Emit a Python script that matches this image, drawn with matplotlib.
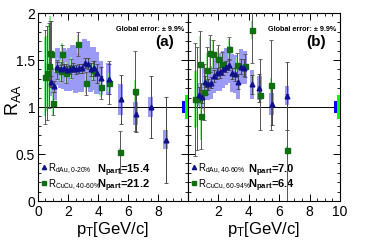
import numpy as np
import matplotlib.pyplot as plt
from matplotlib.ticker import MultipleLocator, FormatStrFormatter
from matplotlib.lines import Line2D

plt.rcParams['font.family'] = ['Liberation Sans', 'DejaVu Sans']
plt.rcParams['mathtext.fontset'] = 'custom'
plt.rcParams['mathtext.rm'] = 'Liberation Sans'
plt.rcParams['mathtext.it'] = 'Liberation Sans'

# panel (a): d+Au 0-20% and Cu+Cu 40-60%
pt_a_dau = [0.9, 1.1, 1.3, 1.5, 1.7, 1.9, 2.1, 2.3, 2.5, 2.7, 2.9, 3.1, 3.3, 3.5, 3.7, 3.9, 4.2, 4.7, 5.5, 6.5, 7.5, 8.5]
r_a_dau = [1.27, 1.22, 1.43, 1.40, 1.41, 1.39, 1.40, 1.42, 1.40, 1.41, 1.41, 1.47, 1.46, 1.40, 1.41, 1.36, 1.31, 1.30, 1.08, 0.93, 1.00, 0.65]
stat_a_dau = [0.06, 0.06, 0.05, 0.05, 0.05, 0.05, 0.05, 0.05, 0.05, 0.05, 0.05, 0.05, 0.06, 0.07, 0.08, 0.10, 0.12, 0.16, 0.26, 0.20, 0.33, 0.46]
sys_a_dau = [0.15, 0.15, 0.2, 0.2, 0.22, 0.22, 0.23, 0.24, 0.25, 0.25, 0.25, 0.25, 0.24, 0.24, 0.23, 0.22, 0.18, 0.17, 0.16, 0.12, 0.11, 0.1]

pt_a_cu = [0.47, 0.62, 0.71, 0.8, 0.87, 1.02, 1.3, 1.5, 1.6, 1.87, 2.2, 2.69, 3.18, 3.65, 4.2, 4.7, 5.45, 6.45]
r_a_cu = [1.32, 1.36, 1.44, 1.57, 1.56, 1.04, 1.40, 1.38, 1.56, 1.36, 1.41, 1.67, 1.25, 1.39, 1.21, 1.26, 0.52, 1.17]
stat_a_cu = [0.5, 0.5, 0.45, 0.35, 0.35, 0.12, 0.1, 0.1, 0.1, 0.1, 0.1, 0.13, 0.12, 0.1, 0.12, 0.23, 0.22, 0.43]
sys_a_cu = [0.42, 0.4, 0.45, 0.4, 0.35, 0.12, 0.12, 0.12, 0.12, 0.12, 0.12, 0.1, 0.1, 0.1, 0.1, 0.1, 0.04, 0.12]

# panel (b): d+Au 40-60% and Cu+Cu 60-94%
pt_b_dau = [0.7, 0.9, 1.1, 1.3, 1.5, 1.7, 1.9, 2.1, 2.3, 2.5, 2.7, 2.9, 3.1, 3.3, 3.5, 3.7, 4.2, 4.7, 5.5, 6.5]
r_b_dau = [1.13, 1.11, 1.27, 1.24, 1.26, 1.33, 1.36, 1.37, 1.40, 1.43, 1.45, 1.36, 1.35, 1.27, 1.43, 1.42, 1.24, 1.20, 1.03, 1.12]
stat_b_dau = [0.08, 0.07, 0.06, 0.06, 0.06, 0.06, 0.06, 0.06, 0.06, 0.06, 0.06, 0.06, 0.07, 0.08, 0.08, 0.09, 0.1, 0.15, 0.22, 0.36]
sys_b_dau = [0.12, 0.13, 0.15, 0.17, 0.18, 0.18, 0.19, 0.2, 0.2, 0.2, 0.2, 0.2, 0.2, 0.19, 0.19, 0.18, 0.15, 0.13, 0.12, 0.1]

pt_b_cu = [0.48, 0.6, 0.77, 0.88, 1.05, 1.25, 1.43, 1.64, 1.95, 2.24, 2.7, 3.22, 3.73, 4.21, 4.72, 5.48, 6.49]
r_b_cu = [1.08, 1.09, 1.46, 0.90, 1.16, 1.39, 1.57, 1.56, 1.51, 1.46, 1.62, 1.45, 1.44, 1.82, 1.13, 1.23, 0.54]
stat_b_cu = [0.6, 0.55, 0.35, 0.35, 0.3, 0.25, 0.2, 0.15, 0.15, 0.12, 0.12, 0.12, 0.12, 0.35, 0.38, 0.48, 0.6]
sys_b_cu = [0.3, 0.3, 0.3, 0.25, 0.2, 0.18, 0.16, 0.14, 0.12, 0.1, 0.1, 0.08, 0.08, 0.1, 0.08, 0.08, 0.04]

glob_pt = [9.68, 9.9]
glob_err = [0.065, 0.125]

panels = [
    dict(ax_rect=[0.1016, 0.2016, 0.4011, 0.7431], dau=(pt_a_dau, r_a_dau, stat_a_dau, sys_a_dau),
         cu=(pt_a_cu, r_a_cu, stat_a_cu, sys_a_cu), tag='(a)',
         lab_dau=r'R$_{\mathregular{dAu,0\text{-}20\%}}$', lab_cu=r'R$_{\mathregular{CuCu,40\text{-}60\%}}$',
         np_dau='15.4', np_cu='21.2'),
    dict(ax_rect=[0.5027, 0.2016, 0.4064, 0.7431], dau=(pt_b_dau, r_b_dau, stat_b_dau, sys_b_dau),
         cu=(pt_b_cu, r_b_cu, stat_b_cu, sys_b_cu), tag='(b)',
         lab_dau=r'R$_{\mathregular{dAu,40\text{-}60\%}}$', lab_cu=r'R$_{\mathregular{CuCu,60\text{-}94\%}}$',
         np_dau='7.0', np_cu='6.4'),
]

blue_box = '#9b9bf7'
green_box = '#8cf08c'
blue_mk = '#10108a'
green_mk = '#0f6e0f'

fig = plt.figure(figsize=(3.74, 2.53), dpi=100)

for i, p in enumerate(panels):
    ax = fig.add_axes(p['ax_rect'])
    x, y, st, sy = p['dau']
    ax.bar(x, 2 * np.array(sy), bottom=np.array(y) - np.array(sy), width=0.3, color=blue_box, lw=0, zorder=1)
    x2, y2, st2, sy2 = p['cu']
    ax.bar(x2, 2 * np.array(sy2), bottom=np.array(y2) - np.array(sy2), width=0.12, color=green_box, lw=0, zorder=2)
    ax.axhline(1, color='black', lw=0.7, zorder=3)
    ax.errorbar(x2, y2, yerr=st2, fmt='none', ecolor='#555555', elinewidth=0.7, capsize=1.2, capthick=0.6, zorder=4)
    ax.errorbar(x, y, yerr=st, fmt='none', ecolor='#444444', elinewidth=0.7, capsize=1.2, capthick=0.6, zorder=4)
    ax.plot(x2, y2, 's', color=green_mk, ms=3.6, zorder=5)
    ax.plot(x, y, '^', color=blue_mk, ms=3.4, zorder=6)
    # global errors
    ax.bar(glob_pt[0], 2 * glob_err[0], bottom=1 - glob_err[0], width=0.2, color='#0000ff', lw=0, zorder=6)
    ax.bar(glob_pt[1], 2 * glob_err[1], bottom=1 - glob_err[1], width=0.2, color='#00ff00', lw=0, zorder=6)

    ax.set_xlim(0, 10)
    ax.set_ylim(0, 2)
    ax.xaxis.set_minor_locator(MultipleLocator(0.5))
    ax.yaxis.set_major_locator(MultipleLocator(0.5))
    ax.yaxis.set_minor_locator(MultipleLocator(0.1))
    ax.tick_params(which='both', direction='in', top=True, right=True, labelsize=10, pad=2)
    ax.tick_params(which='major', length=5, width=0.7)
    ax.tick_params(which='minor', length=2.5, width=0.6)
    ax.yaxis.set_major_formatter(FormatStrFormatter('%g'))
    for s in ax.spines.values():
        s.set_linewidth(0.8)
    ax.set_xticks([0, 2, 4, 6, 8, 10])
    if i == 0:
        ax.set_xticklabels(['0', '2', '4', '6', '8', ''])
    else:
        ax.set_xticklabels(['', '2', '4', '6', '8', '10'])
        ax.set_yticklabels([])
    ax.set_xlabel(r'p$_{\mathregular{T}}$[GeV/c]', fontsize=12, labelpad=1)

    ax.text(0.975, 0.915, 'Global error: \u00b1 9.9%', transform=ax.transAxes, ha='right', va='center',
            fontsize=5.2, fontweight='bold')
    ax.text(0.905, 0.85, p['tag'], transform=ax.transAxes, ha='right', va='center', fontsize=11, fontweight='bold')

    handles = [Line2D([], [], ls='none', marker='^', color=blue_mk, ms=3),
               Line2D([], [], ls='none', marker='s', color=green_mk, ms=3.2)]
    ax.legend(handles, [p['lab_dau'], p['lab_cu']], loc='lower left', bbox_to_anchor=(0.0, 0.03),
              frameon=False, fontsize=7, handlelength=0.4, handletextpad=0.2, labelspacing=0.25,
              borderpad=0.2, borderaxespad=0.2)
    ax.text(0.395, 0.165, r'N$_{\mathregular{part}}$=' + p['np_dau'], transform=ax.transAxes, ha='left',
            va='center', fontsize=8, fontweight='bold')
    ax.text(0.395, 0.085, r'N$_{\mathregular{part}}$=' + p['np_cu'], transform=ax.transAxes, ha='left',
            va='center', fontsize=8, fontweight='bold')

fig.text(13 / 374, 1 - 100 / 253, r'R$_{\mathregular{AA}}$', rotation=90, ha='center', va='center', fontsize=13)

fig.savefig('out.png', dpi=100)
